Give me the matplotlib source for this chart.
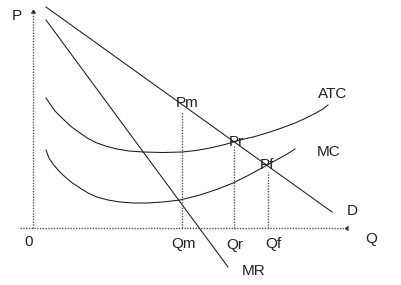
import matplotlib
matplotlib.use("Agg")
import matplotlib.pyplot as plt

plt.rcParams['font.family'] = ['Liberation Sans', 'DejaVu Sans']

# Demand and marginal revenue (straight lines, endpoints)
d_q = [13, 299]
d_p = [221, 16]
mr_q = [13, 195]
mr_p = [208, -39]

# Average total cost curve
atc_q = [13, 17, 22, 30, 38, 47, 55, 64, 74, 84, 96, 110, 130, 149, 163, 177, 192,
         207, 222, 237, 250, 262, 272, 282, 290, 295]
atc_p = [130, 124, 117, 109, 101.5, 95, 89.5, 85, 81.5, 79, 77, 76, 75.5, 76, 77.5, 80, 83.5,
         88, 91.5, 96, 100.5, 105, 109.5, 114.5, 119, 123]

# Marginal cost curve
mc_q = [13, 16, 20, 25, 30, 38, 47, 55, 64, 75, 87, 100, 114, 130, 147, 167, 185,
        200, 214, 227, 237, 247, 255, 262]
mc_p = [78, 70, 64, 58, 53, 46, 40, 35, 31, 28, 26, 25, 25, 26, 28, 33, 39,
        45, 52, 59, 64.5, 70, 74.5, 79]

# Reference quantities and prices
q_marks = [149, 201, 235]
q_labels = ['Qm', 'Qr', 'Qf']
p_marks = [116, 83, 56]
p_labels = ['Pm', 'Pr', 'Pf']

fig = plt.figure(figsize=(4.01, 2.85), dpi=100)
ax = fig.add_axes([0, 0, 1, 1])
ax.set_xlim(-33, 368)
ax.set_ylim(-57, 228)
ax.axis('off')

lc = '#1a1a1a'
lw = 0.75
# axes
ax.plot([0, 0], [0, 218], color='#555555', lw=1.0, ls=(0, (1, 1)))
ax.plot([-13, 312], [0, 0], color='#555555', lw=1.0, ls=(0, (1, 1)))
ax.plot([312], [0], marker=4, color='#333333', ms=3)
ax.plot([0], [218], marker=6, color='#333333', ms=3)

ax.plot(d_q, d_p, color=lc, lw=lw)
ax.plot(mr_q, mr_p, color=lc, lw=lw)
ax.plot(atc_q, atc_p, color=lc, lw=lw)
ax.plot(mc_q, mc_p, color=lc, lw=lw)

for q, p in zip(q_marks, p_marks):
    ax.plot([q, q], [0, p], color='#555555', lw=1.0, ls=(0, (1, 1)))

fs = 11
tc = '#222222'
def lab(x, y, s):
    ax.text(x, y, s, fontsize=fs, color=tc, ha='center', va='center')

lab(-16, 212, 'P')
lab(-4, -14, '0')
lab(338, -11, 'Q')
lab(q_marks[0] + 1, -16, q_labels[0])
lab(q_marks[1] + 1, -17, q_labels[1])
lab(q_marks[2] + 5, -16, q_labels[2])
lab(q_marks[0] + 5, 125, p_labels[0])
lab(q_marks[1] + 2, 86, p_labels[1])
lab(q_marks[2] - 1, 63, p_labels[2])
lab(300, 134, 'ATC')
lab(296, 76, 'MC')
lab(319, 17, 'D')
lab(221, -43, 'MR')

fig.savefig('out.png', dpi=100)
